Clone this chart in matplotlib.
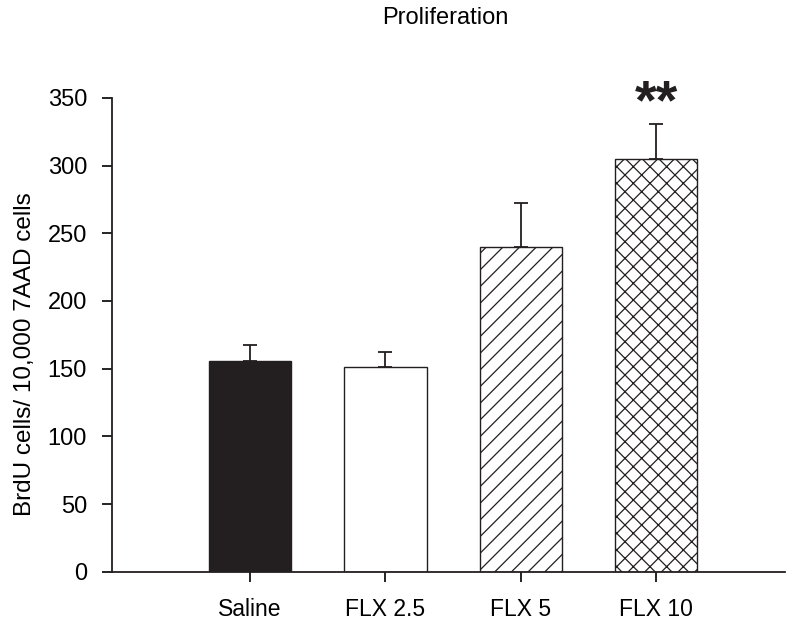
import matplotlib.pyplot as plt

plt.rcParams['font.family'] = ['Liberation Sans', 'DejaVu Sans']
plt.rcParams['hatch.linewidth'] = 0.9

# data
groups = ['Saline', 'FLX 2.5', 'FLX 5', 'FLX 10']
means = [155.5, 151.5, 240, 304.5]
sem_up = [12, 11, 32, 26]
fills = ['#231f20', 'white', 'white', 'white']
hatches = ['', '', '//', 'xx']
signif = ['', '', '', '**']

fig = plt.figure(figsize=(8, 6.23), dpi=100)
ax = fig.add_axes([0.14, 0.082, 0.841, 0.761])

xpos = list(range(len(groups)))
for i in xpos:
    ax.bar(i, means[i], width=0.61, color=fills[i], edgecolor='#231f20',
           linewidth=1.0, hatch=hatches[i], zorder=2)
    ax.errorbar(i, means[i], yerr=[[0], [sem_up[i]]], fmt='none',
                ecolor='#231f20', elinewidth=1.3, capsize=5, capthick=1.3, zorder=3)
    if signif[i]:
        ax.text(i, 335, signif[i], ha='center', va='baseline', clip_on=False,
                fontsize=40, fontweight='bold', color='#231f20')

ax.set_xlim(-1.02, 3.95)
ax.set_ylim(0, 350)
ax.set_yticks(range(0, 351, 50))
ax.set_xticks(xpos)
ax.set_xticklabels(groups)
ax.tick_params(axis='y', labelsize=17, length=7, width=1.2, direction='out', pad=11)
ax.tick_params(axis='x', labelsize=16.5, length=7, width=1.2, direction='out', pad=12)
for s in ['top', 'right']:
    ax.spines[s].set_visible(False)
for s in ['left', 'bottom']:
    ax.spines[s].set_linewidth(1.3)
    ax.spines[s].set_color('#231f20')

ax.set_ylabel('BrdU cells/ 10,000 7AAD cells', fontsize=17.5)
ax.yaxis.set_label_coords(-0.113, 0.46)
fig.text(445 / 800, 1 - 18 / 623, 'Proliferation', ha='center', va='center', fontsize=17)

fig.savefig('out.png', dpi=100)
